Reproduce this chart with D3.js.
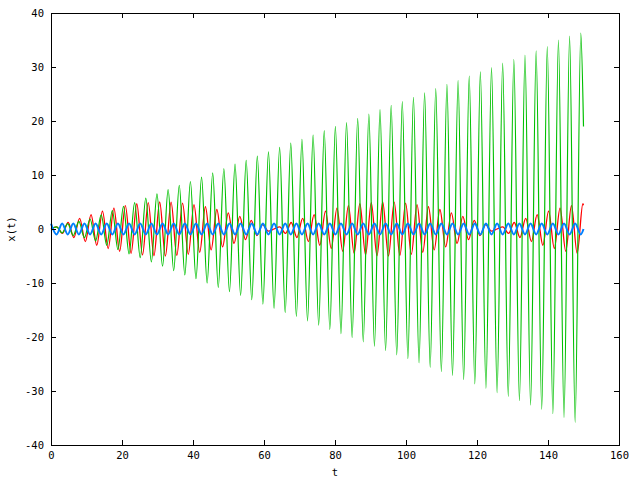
<!DOCTYPE html>
<html>
<head>
<meta charset="utf-8">
<script src="https://cdn.jsdelivr.net/npm/d3@7"></script>
<style>
body { margin: 0; background: #fff; }
text { font-family: "DejaVu Sans Mono", monospace; font-size: 10.5px; fill: #000; }
</style>
</head>
<body>
<div id="chart"></div>
<script>
// times of the turning points of the green and blue curves
const tGrid = [0, 1.57, 3.14, 4.71, 6.28, 7.85, 9.42, 11.00, 12.57, 14.14, 15.71, 17.28, 18.85, 20.42, 21.99, 23.56,
    25.13, 26.70, 28.27, 29.85, 31.42, 32.99, 34.56, 36.13, 37.70, 39.27, 40.84, 42.41, 43.98, 45.55, 47.12, 48.69,
    50.27, 51.84, 53.41, 54.98, 56.55, 58.12, 59.69, 61.26, 62.83, 64.40, 65.97, 67.54, 69.12, 70.69, 72.26, 73.83,
    75.40, 76.97, 78.54, 80.11, 81.68, 83.25, 84.82, 86.39, 87.96, 89.54, 91.11, 92.68, 94.25, 95.82, 97.39, 98.96,
    100.53, 102.10, 103.67, 105.24, 106.81, 108.38, 109.96, 111.53, 113.10, 114.67, 116.24, 117.81, 119.38, 120.95,
    122.52, 124.09, 125.66, 127.23, 128.81, 130.38, 131.95, 133.52, 135.09, 136.66, 138.23, 139.80, 141.37, 142.94,
    144.51, 146.08, 147.65, 149.23, 150];

const greenX = [0, 0.4, -0.7, 1.0, -1.2, 1.4, -1.6, 1.85, -2.2, 2.6, -3.0,
    3.4, -3.8, 4.2, -4.6, 4.9, -5.3, 5.7, -6.1, 6.5, -6.9,
    7.3, -7.7, 8.1, -8.5, 8.8, -9.2, 9.6, -10.0, 10.4, -10.8,
    11.2, -11.6, 12.0, -12.3, 12.7, -13.1, 13.5, -13.9, 14.3, -14.7,
    15.1, -15.5, 15.9, -16.2, 16.6, -17.0, 17.4, -17.8, 18.2, -18.6,
    19.0, -19.4, 19.7, -20.1, 20.5, -20.9, 21.3, -21.7, 22.1, -22.5,
    22.9, -23.3, 23.6, -24.0, 24.4, -24.8, 25.2, -25.6, 26.0, -26.4,
    26.8, -27.1, 27.5, -27.9, 28.3, -28.7, 29.1, -29.5, 29.9, -30.3,
    30.7, -31.0, 31.4, -31.8, 32.2, -32.6, 33.0, -33.4, 33.8, -34.2,
    35.0, -34.9, 35.7, -35.8, 36.3, 19];

const blueX = [1, -1, 1, -1, 1, -1, 1, -1, 1, -1, 1, -1,
    1, -1, 1, -1, 1, -1, 1, -1, 1, -1, 1, -1,
    1, -1, 1, -1, 1, -1, 1, -1, 1, -1, 1, -1,
    1, -1, 1, -1, 1, -1, 1, -1, 1, -1, 1, -1,
    1, -1, 1, -1, 1, -1, 1, -1, 1, -1, 1, -1,
    1, -1, 1, -1, 1, -1, 1, -1, 1, -1, 1, -1,
    1, -1, 1, -1, 1, -1, 1, -1, 1, -1, 1, -1,
    1, -1, 1, -1, 1, -1, 1, -1, 1, -1, 1, -1, 0];

// times of the turning points of the red curve
const tRed = [0, 1.61, 3.22, 4.83, 6.44, 8.06, 9.67, 11.28, 12.89, 14.50, 16.11, 17.72, 19.33, 20.94, 22.56, 24.17,
    25.78, 27.39, 29.00, 30.61, 32.22, 33.83, 35.44, 37.06, 38.67, 40.28, 41.89, 43.50, 45.11, 46.72, 48.33, 49.94,
    51.56, 53.17, 54.78, 56.39, 58.00, 59.61, 61.22, 62.83, 64.44, 66.06, 67.67, 69.28, 70.89, 72.50, 74.11, 75.72,
    77.33, 78.94, 80.56, 82.17, 83.78, 85.39, 87.00, 88.61, 90.22, 91.83, 93.44, 95.06, 96.67, 98.28, 99.89,
    101.50, 103.11, 104.72, 106.33, 107.94, 109.55, 111.17, 112.78, 114.39, 116.00, 117.61, 119.22, 120.83,
    122.44, 124.06, 125.67, 127.28, 128.89, 130.50, 132.11, 133.72, 135.33, 136.94, 138.55, 140.17, 141.78,
    143.39, 145.00, 146.61, 148.22, 149.83, 150];

const redX = [0,
    0.40, -0.80, 1.20, -1.58, 1.96, -2.32, 2.67, -3.00, 3.32, -3.61,
    3.87, -4.12, 4.33, -4.52, 4.68, -4.80, 4.90, -4.96, 5.00, -5.00,
    4.96, -4.90, 4.80, -4.68, 4.52, -4.33, 4.12, -3.87, 3.61, -3.32,
    3.00, -2.67, 2.32, -1.96, 1.58, -1.20, 0.80, -0.40, 0.0,
    0.40, -0.80, 1.20, -1.58, 1.96, -2.32, 2.67, -3.00, 3.32, -3.61,
    3.87, -4.12, 4.33, -4.52, 4.68, -4.80, 4.90, -4.96, 5.00, -5.00,
    4.96, -4.90, 4.80, -4.68, 4.52, -4.33, 4.12, -3.87, 3.61, -3.32,
    3.00, -2.67, 2.32, -1.96, 1.58, -1.20, 0.80, -0.40, 0.0,
    0.40, -0.80, 1.20, -1.58, 1.96, -2.32, 2.67, -3.00, 3.32, -3.61,
    3.87, -4.12, 4.33, -4.52, 4.68, 4.4];

const xTicks = [0, 20, 40, 60, 80, 100, 120, 140, 160];
const yTicks = [-40, -30, -20, -10, 0, 10, 20, 30, 40];

const width = 640, height = 480;
const plotLeft = 51, plotRight = 619, plotTop = 13, plotBottom = 445;

const x = d3.scaleLinear().domain([0, 160]).range([plotLeft, plotRight]);
const y = d3.scaleLinear().domain([-40, 40]).range([plotBottom, plotTop]);

const svg = d3.select("#chart").append("svg")
    .attr("width", width)
    .attr("height", height);

const line = d3.line()
    .x(d => x(d[0]))
    .y(d => y(d[1]))
    .curve(d3.curveMonotoneX);

// red first, then green, blue on top (gnuplot order)
svg.append("path")
    .datum(d3.zip(tRed, redX))
    .attr("d", line)
    .attr("fill", "none")
    .attr("stroke", "#ff0000")
    .attr("stroke-width", 1.3);

svg.append("path")
    .datum(d3.zip(tGrid, greenX))
    .attr("d", line)
    .attr("fill", "none")
    .attr("stroke", "#00c000")
    .attr("stroke-width", 1.2);

svg.append("path")
    .datum(d3.zip(tGrid, blueX))
    .attr("d", line)
    .attr("fill", "none")
    .attr("stroke", "#0080ff")
    .attr("stroke-width", 2);

// axes, ticks pointing inwards on all four sides
let xAxis = d3.axisBottom(x).tickValues(xTicks).tickSize(-5).tickPadding(7).tickFormat(d => String(d));
svg.append("g")
    .attr("transform", `translate(0, ${plotBottom})`)
    .call(xAxis)
    .call(g => g.select(".domain").remove());

svg.append("g")
    .attr("transform", `translate(0, ${plotTop})`)
    .call(d3.axisTop(x).tickValues(xTicks).tickSize(-5).tickFormat(""))
    .call(g => g.select(".domain").remove());

let yAxis = d3.axisLeft(y).tickValues(yTicks).tickSize(-5).tickPadding(7).tickFormat(d => String(d));
svg.append("g")
    .attr("transform", `translate(${plotLeft}, 0)`)
    .call(yAxis)
    .call(g => g.select(".domain").remove());

svg.append("g")
    .attr("transform", `translate(${plotRight}, 0)`)
    .call(d3.axisRight(y).tickValues(yTicks).tickSize(-5).tickFormat(""))
    .call(g => g.select(".domain").remove());

svg.selectAll(".tick text")
    .style("font-family", "DejaVu Sans Mono, monospace")
    .style("font-size", "10.5px");

svg.append("rect")
    .attr("x", plotLeft + 0.5)
    .attr("y", plotTop + 0.5)
    .attr("width", plotRight - plotLeft)
    .attr("height", plotBottom - plotTop)
    .attr("fill", "none")
    .attr("stroke", "#000")
    .attr("stroke-width", 1);

svg.append("text")
    .attr("x", x(80))
    .attr("y", 476)
    .attr("text-anchor", "middle")
    .text("t");

svg.append("text")
    .attr("transform", `translate(15, ${y(0)}) rotate(-90)`)
    .attr("text-anchor", "middle")
    .text("x(t)");
</script>
</body>
</html>
